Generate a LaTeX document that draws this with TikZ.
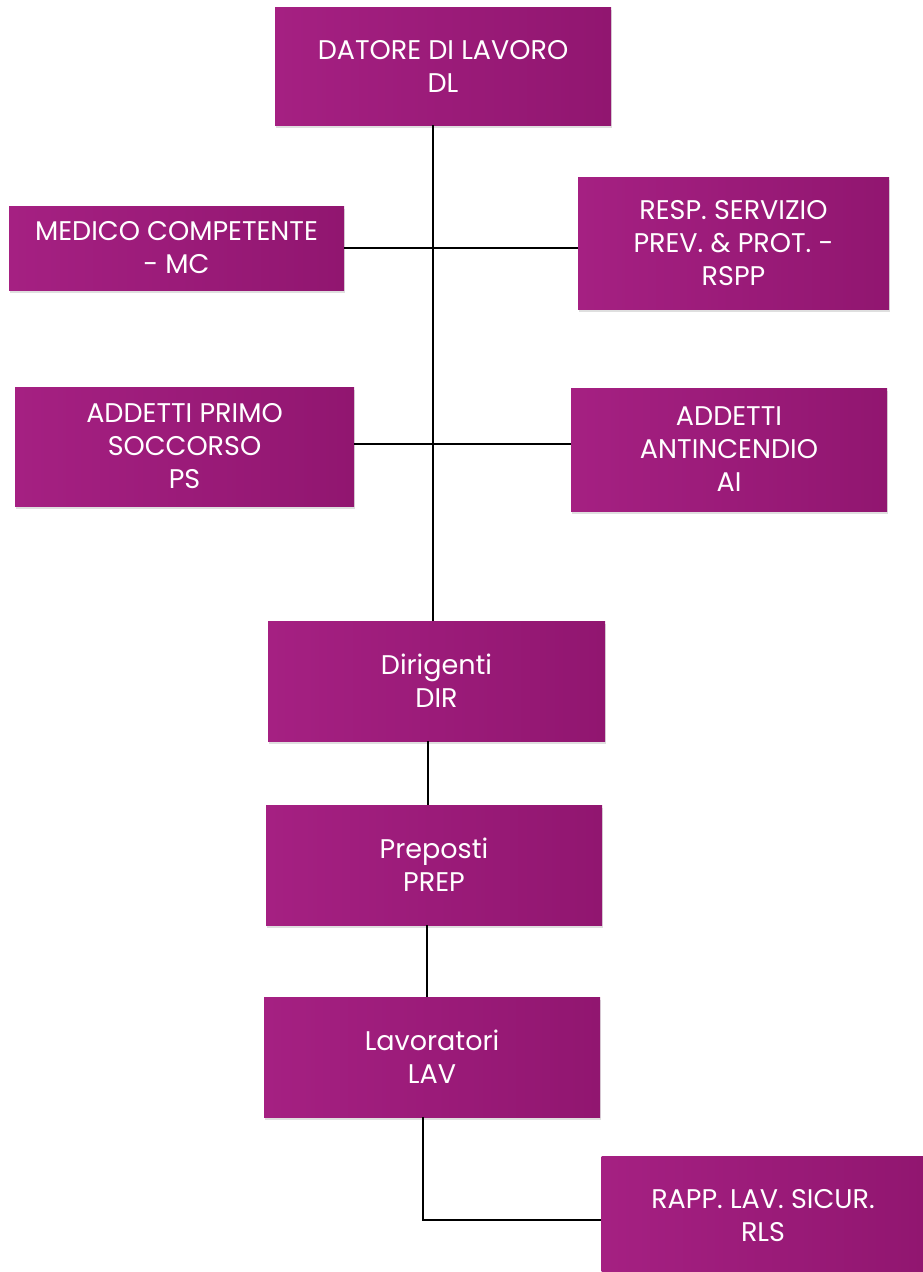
\documentclass[tikz,border=0pt]{standalone}
\usepackage{fontspec}
\setmainfont{Poppins}
\usetikzlibrary{shadows}
\definecolor{boxL}{RGB}{165,32,130}
\definecolor{boxR}{RGB}{145,22,112}
\tikzset{
  orgbox/.style={rectangle, left color=boxL, right color=boxR, draw=none,
    text=white, align=center, font=\fontsize{27}{33}\selectfont,
    inner sep=0pt, drop shadow={shadow xshift=1pt, shadow yshift=-3pt, opacity=0.25}},
  link/.style={draw=black, line width=1.1pt}
}
\begin{document}
\begin{tikzpicture}[x=1pt,y=-1pt]
\useasboundingbox (0,0) rectangle (923,1272);
\node[orgbox, minimum width=336pt, minimum height=118pt] (DL) at (443,66) {DATORE DI LAVORO\\DL};
\node[orgbox, minimum width=335pt, minimum height=84pt] (MC) at (176.5,248) {MEDICO COMPETENTE\\- MC};
\node[orgbox, minimum width=311pt, minimum height=132pt] (RSPP) at (733.5,243) {RESP. SERVIZIO\\PREV. \& PROT. -\\RSPP};
\node[orgbox, minimum width=339pt, minimum height=119pt] (PS) at (184.5,446.5) {ADDETTI PRIMO\\SOCCORSO\\PS};
\node[orgbox, minimum width=316pt, minimum height=123pt] (AI) at (729,449.5) {ADDETTI\\ANTINCENDIO\\AI};
\node[orgbox, minimum width=337pt, minimum height=120pt] (DIR) at (436.5,681) {Dirigenti\\DIR};
\node[orgbox, minimum width=336pt, minimum height=120pt] (PREP) at (434,865) {Preposti\\PREP};
\node[orgbox, minimum width=336pt, minimum height=120pt] (LAV) at (432,1057) {Lavoratori\\LAV};
\node[orgbox, minimum width=323pt, minimum height=120pt] (RLS) at (763,1216) {RAPP. LAV. SICUR.\\RLS};
\coordinate (t1) at (433,0);
\coordinate (t2) at (428,0);
\coordinate (t3) at (427,0);
\coordinate (t4) at (423,0);
\draw[link] (t1 |- DL.south) -- (t1 |- DIR.north);
\draw[link] (MC.east) -- (MC.east -| RSPP.west);
\draw[link] ([yshift=2.5pt]PS.east) -- ([yshift=2.5pt]PS.east -| AI.west);
\draw[link] (t2 |- DIR.south) -- (t2 |- PREP.north);
\draw[link] (t3 |- PREP.south) -- (t3 |- LAV.north);
\draw[link] (t4 |- LAV.south) |- ([yshift=-4pt]RLS.west);
\end{tikzpicture}
\end{document}
